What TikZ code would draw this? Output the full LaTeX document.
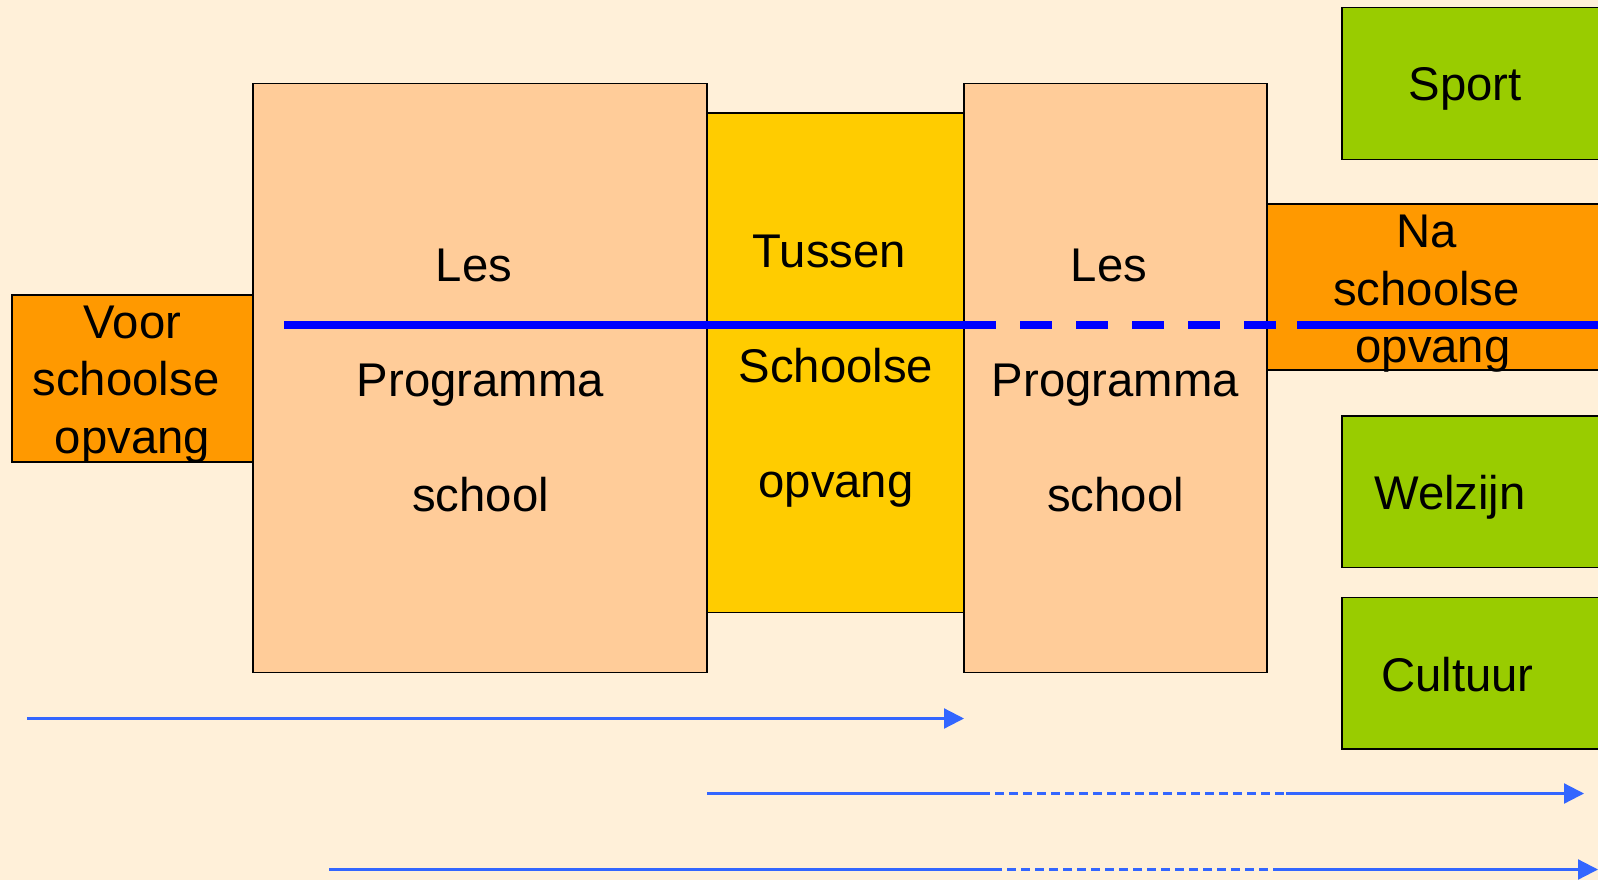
\documentclass[tikz,border=0pt]{standalone}
\usepackage{fontspec}
\setmainfont{Liberation Sans}
\usetikzlibrary{arrows.meta}
\definecolor{bg}{HTML}{FFF0D9}
\definecolor{orangec}{HTML}{FF9900}
\definecolor{peach}{HTML}{FFCC99}
\definecolor{yellowc}{HTML}{FFCC00}
\definecolor{greenc}{HTML}{99CC00}
\definecolor{barblue}{HTML}{0000FF}
\definecolor{arrowblue}{HTML}{3366FF}
\begin{document}
\begin{tikzpicture}[x=1pt,y=-1pt,
  box/.style={draw=black, line width=1.8pt, inner sep=0pt, outer sep=0pt, anchor=north west},
  txt/.style={font=\fontsize{47.3}{57.5}\selectfont, align=center, anchor=base, inner sep=0pt},
  widetxt/.style={font=\fontsize{47.3}{115}\selectfont, align=center, anchor=base, inner sep=0pt},
  bluebar/.style={draw=barblue, line width=8pt},
  thinline/.style={draw=arrowblue, line width=2.2pt},
  tiptri/.style={-{Triangle[length=20pt,width=20pt]}}
]
\useasboundingbox (0,0) rectangle (1598,880);
\fill[bg] (0,0) rectangle (1598,880);
\clip (0,0) rectangle (1598,880);

% boxes
\node[box, fill=orangec, minimum width=241pt, minimum height=167pt] (voor) at (12,295) {};
\node[box, fill=peach, minimum width=454pt, minimum height=589pt] (les1) at (253,83.5) {};
\node[box, fill=yellowc, minimum width=257pt, minimum height=499.5pt] (tussen) at (707,113) {};
\node[box, fill=peach, minimum width=303pt, minimum height=589pt] (les2) at (964,83.5) {};
\node[box, fill=orangec, minimum width=350pt, minimum height=166pt] (na) at (1267,204) {};
\node[box, fill=greenc, minimum width=280pt, minimum height=152pt] (sport) at (1342,7.5) {};
\node[box, fill=greenc, minimum width=280pt, minimum height=151.5pt] (welzijn) at (1342,416) {};
\node[box, fill=greenc, minimum width=280pt, minimum height=151.5pt] (cultuur) at (1342,597.5) {};

% texts (anchor=base is the baseline of the last line)
\node[txt] (voortxt) at (132.5,453) {Voor\\schoolse\kern13pt\\opvang};
\node[widetxt] (les1txt) at (480.5,511.7) {Les\kern13pt\\Programma\\school};
\node[widetxt] (tussentxt) at (836,497.7) {Tussen\kern13pt\\Schoolse\\opvang};
\node[widetxt] (les2txt) at (1115.5,511.7) {Les\kern13pt\\Programma\\school};
\node[txt] (natxt) at (1433,362.5) {Na\kern13pt\\schoolse\kern13pt\\opvang};
\node[txt] (sporttxt) at (1465,101) {Sport};
\node[txt] (welzijntxt) at (1450,509.3) {Welzijn};
\node[txt] (cultuurtxt) at (1457.5,691.7) {Cultuur};

% thick blue bar
\coordinate (t0) at (284,325);
\coordinate (t1) at (964,325);
\coordinate (t2) at (1297,325);
\coordinate (t3) at (1610,325);
\draw[bluebar] (t0) -- (t1);
\draw[bluebar, dash pattern=on 32pt off 24pt] (t1) -- (t2);
\draw[bluebar] (t2) -- (t3);

% thin arrows
\coordinate (a1s) at (27,718.5);
\coordinate (a1e) at (964,718.5);
\draw[thinline, tiptri] (a1s) -- (a1e);

\coordinate (a2s) at (707,793.5);
\coordinate (a2m) at (981,793.5);
\coordinate (a2n) at (1286,793.5);
\coordinate (a2e) at (1584,793.5);
\draw[thinline] (a2s) -- (a2m);
\draw[thinline, dash pattern=on 9pt off 5pt] (a2m) -- (a2n);
\draw[thinline, tiptri] (a2n) -- (a2e);

\coordinate (a3s) at (329,869.5);
\coordinate (a3m) at (993,869.5);
\coordinate (a3n) at (1278,869.5);
\coordinate (a3e) at (1598,869.5);
\draw[thinline] (a3s) -- (a3m);
\draw[thinline, dash pattern=on 9pt off 5pt] (a3m) -- (a3n);
\draw[thinline, tiptri] (a3n) -- (a3e);
\end{tikzpicture}
\end{document}
